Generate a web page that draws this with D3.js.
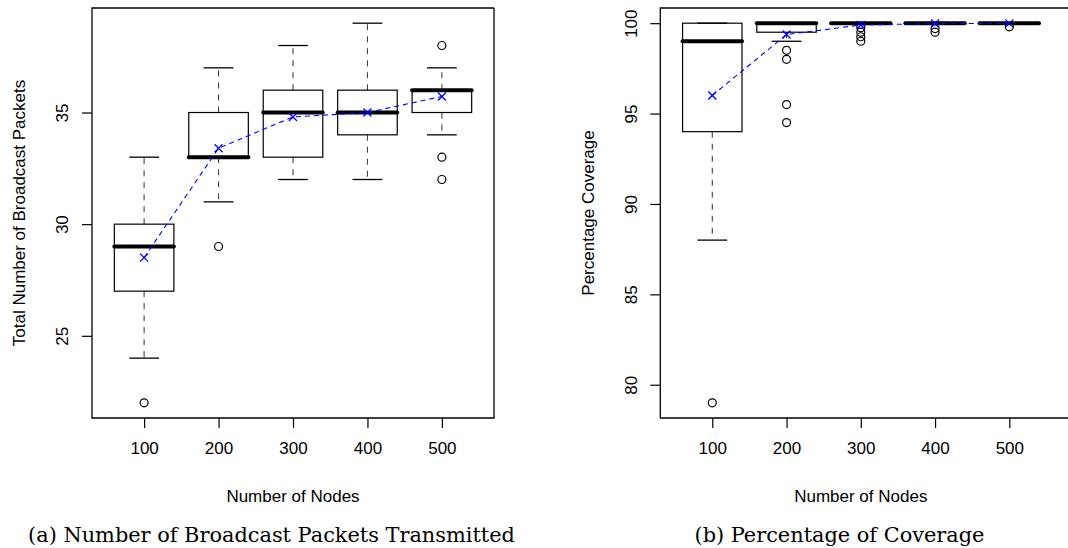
<!DOCTYPE html>
<html>
<head>
<meta charset="utf-8">
<script src="https://cdn.jsdelivr.net/npm/d3@7"></script>
<style>
  html, body { margin: 0; padding: 0; background: #fff; }
  svg { display: block; }
</style>
</head>
<body>
<svg id="chart" width="1068" height="548"></svg>
<script>
// ---------- data ----------
const categories = ["100", "200", "300", "400", "500"];

// (a) Total number of broadcast packets
const packetsLow      = [24, 31, 32, 32, 34];
const packetsQ1       = [27, 33, 33, 34, 35];
const packetsMedian   = [29, 33, 35, 35, 36];
const packetsQ3       = [30, 35, 36, 36, 36];
const packetsHigh     = [33, 37, 38, 39, 37];
const packetsOutliers = [[22], [29], [], [], [38, 33, 32]];
const packetsMean     = [28.5, 33.4, 34.8, 35.0, 35.72];
const packetsTicks    = [25, 30, 35];

// (b) Percentage coverage
const coverageLow      = [88, 99, 100, 100, 100];
const coverageQ1       = [94, 99.5, 100, 100, 100];
const coverageMedian   = [99, 100, 100, 100, 100];
const coverageQ3       = [100, 100, 100, 100, 100];
const coverageHigh     = [100, 100, 100, 100, 100];
const coverageOutliers = [[79], [98.5, 98, 95.5, 94.5], [99.75, 99.5, 99.25, 99], [99.7, 99.5], [99.8]];
const coverageMean     = [96.0, 99.37, 99.9, 99.98, 99.99];
const coverageTicks    = [80, 85, 90, 95, 100];

// ---------- drawing ----------
const svg = d3.select("#chart");
const SANS = "'Liberation Sans', Arial, Helvetica, sans-serif";
const SERIF = "'DejaVu Serif', 'Liberation Serif', serif";

function panel(opts) {
  const { left, right, frameRight, top, bottom, low, q1, med, q3, high, outliers, mean, ticks, ylabel, ylabelX, tickLabelX, caption, captionX } = opts;
  const g = svg.append("g");

  const all = [].concat(low, high, outliers.flat());
  const mn = d3.min(all), mx = d3.max(all), pad = (mx - mn) * 0.04;
  const y = d3.scaleLinear().domain([mn - pad, mx + pad]).range([bottom, top]);
  const x = d3.scaleLinear().domain([0.3, categories.length + 0.7]).range([left, right]);

  const boxHalf = 0.4, capHalf = 0.2;
  const rows = categories.map((c, i) => ({ i, pos: i + 1, low: low[i], q1: q1[i], med: med[i], q3: q3[i], high: high[i], out: outliers[i], mean: mean[i] }));

  // whiskers (dashed)
  const wh = g.append("g").attr("stroke", "#444").attr("stroke-width", 1.1).attr("stroke-dasharray", "6,6");
  rows.forEach(r => {
    if (r.high > r.q3) wh.append("line").attr("x1", x(r.pos)).attr("x2", x(r.pos)).attr("y1", y(r.q3)).attr("y2", y(r.high));
    if (r.low < r.q1) wh.append("line").attr("x1", x(r.pos)).attr("x2", x(r.pos)).attr("y1", y(r.q1)).attr("y2", y(r.low));
  });
  // staples
  const st = g.append("g").attr("stroke", "#000").attr("stroke-width", 1.3);
  rows.forEach(r => {
    [r.low, r.high].forEach(v => st.append("line")
      .attr("x1", x(r.pos - capHalf)).attr("x2", x(r.pos + capHalf)).attr("y1", y(v)).attr("y2", y(v)));
  });
  // boxes
  g.append("g").selectAll("rect").data(rows).join("rect")
    .attr("x", d => x(d.pos - boxHalf)).attr("width", d => x(d.pos + boxHalf) - x(d.pos - boxHalf))
    .attr("y", d => y(d.q3)).attr("height", d => Math.max(0, y(d.q1) - y(d.q3)))
    .attr("fill", "none").attr("stroke", "#000").attr("stroke-width", 1.2);
  // medians
  g.append("g").selectAll("line").data(rows).join("line")
    .attr("x1", d => x(d.pos - boxHalf)).attr("x2", d => x(d.pos + boxHalf))
    .attr("y1", d => y(d.med)).attr("y2", d => y(d.med))
    .attr("stroke", "#000").attr("stroke-width", 4).attr("stroke-linecap", "round");
  // outliers
  g.append("g").selectAll("circle").data(rows.flatMap(r => r.out.map(v => ({ pos: r.pos, v }))))
    .join("circle").attr("cx", d => x(d.pos)).attr("cy", d => y(d.v)).attr("r", 4)
    .attr("fill", "none").attr("stroke", "#000").attr("stroke-width", 1.2);

  // mean line and markers
  g.append("path").datum(rows)
    .attr("d", d3.line().x(d => x(d.pos)).y(d => y(d.mean)))
    .attr("fill", "none").attr("stroke", "#0000ff").attr("stroke-width", 1.1).attr("stroke-dasharray", "5,4");
  const mk = g.append("g").attr("stroke", "#0000ff").attr("stroke-width", 1.3);
  rows.forEach(r => {
    const cx = x(r.pos), cy = y(r.mean), s = 4;
    mk.append("line").attr("x1", cx - s).attr("x2", cx + s).attr("y1", cy - s).attr("y2", cy + s);
    mk.append("line").attr("x1", cx - s).attr("x2", cx + s).attr("y1", cy + s).attr("y2", cy - s);
  });

  // frame
  const fr = g.append("g").attr("stroke", "#000").attr("stroke-width", 1.3).attr("fill", "none");
  fr.append("path").attr("d", `M${frameRight},${top}H${left}V${bottom}H${frameRight}` + (frameRight <= 1068 ? `V${top}` : ""));

  // x axis
  const xa = g.append("g").attr("transform", `translate(0,${bottom})`)
    .call(d3.axisBottom(x).tickValues(d3.range(1, categories.length + 1)).tickFormat(d => categories[d - 1]).tickSize(10).tickPadding(14));
  xa.select(".domain").remove();
  xa.selectAll(".tick line").attr("stroke", "#000").attr("stroke-width", 1.2);
  xa.selectAll(".tick text").attr("font-family", SANS).attr("font-size", 17).attr("fill", "#000");

  // y axis
  const ya = g.append("g").attr("transform", `translate(${left},0)`)
    .call(d3.axisLeft(y).tickValues(ticks).tickSize(10));
  ya.select(".domain").remove();
  ya.selectAll(".tick line").attr("stroke", "#000").attr("stroke-width", 1.2);
  ya.selectAll(".tick text")
    .attr("font-family", SANS).attr("font-size", 17).attr("fill", "#000")
    .attr("x", null).attr("dy", "0.35em").attr("text-anchor", "middle")
    .attr("transform", `translate(${tickLabelX - left},0) rotate(-90)`);

  // axis titles
  g.append("text").attr("x", (left + right) / 2).attr("y", 502)
    .attr("text-anchor", "middle").attr("font-family", SANS).attr("font-size", 17).text("Number of Nodes");
  g.append("text").attr("transform", `translate(${ylabelX},${(top + bottom) / 2}) rotate(-90)`)
    .attr("dy", "0.35em").attr("text-anchor", "middle").attr("font-family", SANS).attr("font-size", 17).text(ylabel);

  // caption
  return g.append("text").attr("x", captionX).attr("y", 542).attr("text-anchor", "middle")
    .attr("font-family", SERIF).attr("font-size", 20).text(caption);
}

const capA = panel({
  left: 92, right: 494, frameRight: 494, top: 8, bottom: 418,
  low: packetsLow, q1: packetsQ1, med: packetsMedian, q3: packetsQ3, high: packetsHigh,
  outliers: packetsOutliers, mean: packetsMean, ticks: packetsTicks,
  ylabel: "Total Number of Broadcast Packets", ylabelX: 19, tickLabelX: 62,
  caption: "(a) Number of Broadcast Packets Transmitted", captionX: 271.5
});
const capB = panel({
  left: 660.3, right: 1061.3, frameRight: 1075, top: 8, bottom: 418,
  low: coverageLow, q1: coverageQ1, med: coverageMedian, q3: coverageQ3, high: coverageHigh,
  outliers: coverageOutliers, mean: coverageMean, ticks: coverageTicks,
  ylabel: "Percentage Coverage", ylabelX: 588.5, tickLabelX: 631.5,
  caption: "(b) Percentage of Coverage", captionX: 839.5
});

// fit caption size to the reference caption width
const w = capA.node().getComputedTextLength();
const fs = Math.max(17, Math.min(23, 20 * 487 / w));
capA.attr("font-size", fs);
capB.attr("font-size", fs);
</script>
</body>
</html>
